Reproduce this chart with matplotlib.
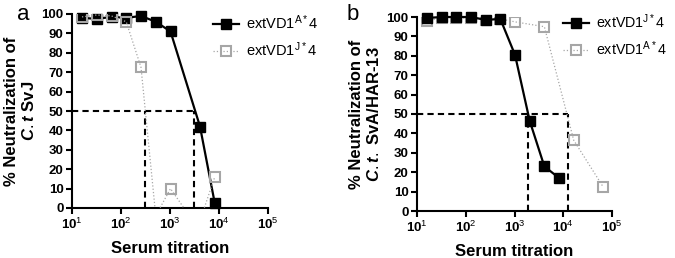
import numpy as np
import matplotlib
matplotlib.use('Agg')
import matplotlib.pyplot as plt
from matplotlib.ticker import FixedLocator, LogLocator, NullFormatter

plt.rcParams['font.family'] = ['Liberation Sans', 'DejaVu Sans']
plt.rcParams['mathtext.fontset'] = 'custom'
plt.rcParams['mathtext.rm'] = 'Liberation Sans'
plt.rcParams['mathtext.bf'] = 'Liberation Sans:bold'
plt.rcParams['mathtext.it'] = 'Liberation Sans:italic:bold'

# panel a
a_black_x = [16, 32, 64, 128, 256, 512, 1024, 4096, 8192]
a_black_y = [98, 97.5, 98.5, 98, 99, 96, 91, 42, 2.5]
a_grey_x = [16, 32, 64, 128, 256, 512, 1024, 2048, 4096, 8192]
a_grey_y = [98.5, 99.5, 99, 96, 72.5, -4, 10, -1, -6.5, 16]
a_ic50 = [310, 3100]
a_labels = ['extVD1$^{\\mathrm{A*}}$4', 'extVD1$^{\\mathrm{J*}}$4']

# panel b
b_black_x = [16, 32, 64, 128, 256, 512, 1024, 2048, 4096, 8192]
b_black_y = [99.5, 100, 100, 100, 98.5, 99, 80.5, 46.5, 23, 17]
b_grey_x = [16, 32, 64, 128, 256, 512, 1024, 4096, 16384, 65536]
b_grey_y = [98, 99.5, 99.5, 99.5, 98.5, 99, 97.5, 95, 36.5, 12.5]
b_ic50 = [1870, 12600]
b_labels = ['extVD1$^{\\mathrm{J*}}$4', 'extVD1$^{\\mathrm{A*}}$4']

xticks = [10, 100, 1000, 10000, 100000]
xticklabels = ['$\\mathbf{10}^{\\mathrm{%d}}$' % i for i in range(1, 6)]
yticks = list(range(0, 101, 10))

grey = '#a6a6a6'

fig = plt.figure(figsize=(6.75, 2.58), dpi=100)
ax1 = fig.add_axes([72/675, 50/258, 196/675, 194/258])
ax2 = fig.add_axes([417/675, 47/258, 195/675, 194/258])


def style(ax):
    ax.set_xscale('log')
    ax.set_xlim(10, 1e5)
    ax.set_ylim(0, 100)
    for s in ['top', 'right']:
        ax.spines[s].set_visible(False)
    for s in ['left', 'bottom']:
        ax.spines[s].set_linewidth(1.5)
    ax.xaxis.set_major_locator(FixedLocator(xticks))
    ax.set_xticklabels(xticklabels)
    ax.xaxis.set_minor_locator(LogLocator(base=10, subs=np.arange(2, 10)))
    ax.xaxis.set_minor_formatter(NullFormatter())
    ax.set_yticks(yticks)
    ax.tick_params(axis='both', which='major', length=4, width=1.5, labelsize=9.5, pad=2)
    ax.tick_params(axis='x', which='minor', length=2.5, width=1.2)
    for lab in ax.get_yticklabels():
        lab.set_fontweight('bold')
    ax.set_xlabel('Serum titration', fontsize=12, fontweight='bold', labelpad=7)


def ic50_lines(ax, xs):
    ax.plot([10, max(xs)], [50, 50], color='black', lw=1.5, ls=(0, (3, 2)), clip_on=False, zorder=2)
    for x in xs:
        ax.plot([x, x], [0, 50], color='black', lw=1.5, ls=(0, (3, 2)), zorder=2)


def grey_line(ax, x, y, label, z):
    y = np.array(y)
    show = [i for i in range(len(y)) if y[i] >= 0]
    ax.plot(x, y, color=grey, lw=0.9, ls=':', marker='s', ms=7, mfc='none',
            mec=grey, mew=1.5, markevery=show, label=label, zorder=z)


def black_line(ax, x, y, label, z):
    ax.plot(x, y, color='black', lw=1.6, marker='s', ms=7, mfc='black',
            mec='black', label=label, clip_on=False, zorder=z)


# panel a
style(ax1)
ic50_lines(ax1, a_ic50)
black_line(ax1, a_black_x, a_black_y, a_labels[0], 3)
grey_line(ax1, a_grey_x, a_grey_y, a_labels[1], 4)
ax1.set_ylabel('% Neutralization of\n$\\mathit{C.t}$ SvJ', fontsize=12, fontweight='bold', labelpad=3)
ax1.legend(loc='upper left', bbox_to_anchor=(0.65, 1.07), frameon=False, fontsize=10.5,
           handlelength=1.8, handletextpad=0.5, labelspacing=0.6)
fig.text(17/675, 1 - 20/258, 'a', fontsize=16)

# panel b
style(ax2)
ic50_lines(ax2, b_ic50)
grey_line(ax2, b_grey_x, b_grey_y, b_labels[1], 3)
black_line(ax2, b_black_x, b_black_y, b_labels[0], 4)
ax2.set_ylabel('% Neutralization of\n$\\mathit{C.t.}$ SvA/HAR-13', fontsize=12, fontweight='bold', labelpad=3)
h, l = ax2.get_legend_handles_labels()
ax2.legend(h[::-1], l[::-1], loc='upper left', bbox_to_anchor=(0.685, 1.09), frameon=False, fontsize=10.3,
           handlelength=1.8, handletextpad=0.5, labelspacing=0.6)
fig.text(347/675, 1 - 20/258, 'b', fontsize=16)

fig.savefig('out.png', dpi=100)
